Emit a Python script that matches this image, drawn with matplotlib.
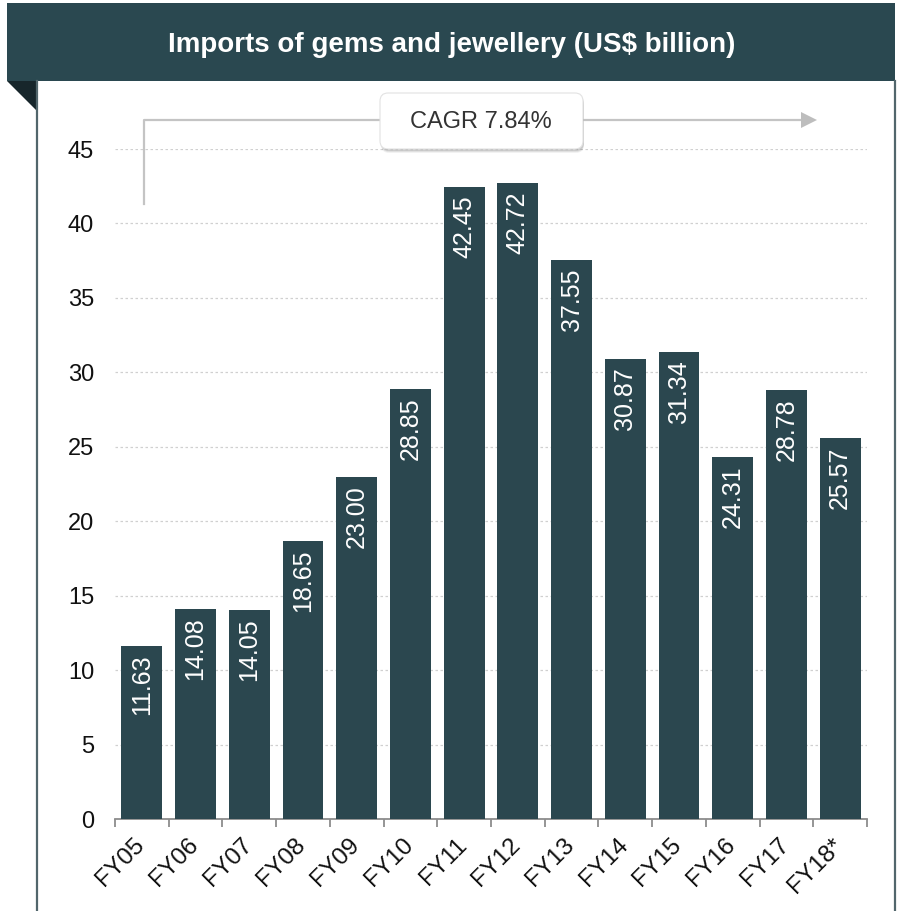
import matplotlib
matplotlib.use("Agg")
import matplotlib.pyplot as plt
import matplotlib.transforms as mtransforms
from matplotlib.patches import Rectangle, Polygon, FancyBboxPatch
from matplotlib.lines import Line2D

# Data
years = ["FY05", "FY06", "FY07", "FY08", "FY09", "FY10", "FY11",
         "FY12", "FY13", "FY14", "FY15", "FY16", "FY17", "FY18*"]
imports = [11.63, 14.08, 14.05, 18.65, 23.00, 28.85, 42.45,
           42.72, 37.55, 30.87, 31.34, 24.31, 28.78, 25.57]
title = "Imports of gems and jewellery (US$ billion)"
cagr_label = "CAGR 7.84%"
y_ticks = [0, 5, 10, 15, 20, 25, 30, 35, 40, 45]

plt.rcParams["font.family"] = ["Liberation Sans", "DejaVu Sans"]

W, H = 897, 911
DARK = "#2a4850"
BAR = "#2b474f"
fig = plt.figure(figsize=(W / 100, H / 100), dpi=100)
fig.patch.set_facecolor("white")


def px(x, y):
    """Pixel position measured from the top-left -> figure fraction."""
    return x / W, 1 - y / H


# Frame: header band, folded corner and side borders
x0, y0 = px(7, 81)
x1, y1 = px(895, 3)
fig.patches.append(Rectangle((x0, y0), x1 - x0, y1 - y0, transform=fig.transFigure,
                             facecolor=DARK, edgecolor="none", zorder=0))
fig.patches.append(Polygon([px(7, 81), px(37, 81), px(37, 111)], closed=True,
                           transform=fig.transFigure, facecolor="#17262b",
                           edgecolor="none", zorder=0))
for bx in (36.5, 895):
    fig.add_artist(Line2D([bx / W, bx / W], [0, 1 - 81 / H], transform=fig.transFigure,
                          color="#52666c", lw=1.6, zorder=1))

fig.text(452 / W, 1 - 45 / H, title, color="white", fontsize=20, fontweight="bold",
         ha="center", va="center")

# Axes
ax_l, ax_r = 115, 867
ax_b, ax_t = 819, 149
ax = fig.add_axes([ax_l / W, 1 - ax_b / H, (ax_r - ax_l) / W, (ax_b - ax_t) / H])
ax.set_facecolor("none")

xs = list(range(len(years)))
bars = ax.bar(xs, imports, width=0.76, color=BAR, zorder=3)
for rect, v in zip(bars, imports):
    ax.annotate(f"{v:.2f}", xy=(rect.get_x() + rect.get_width() / 2, v),
                xytext=(0, -6), textcoords="offset points", rotation=90,
                ha="center", va="top", color="white", fontsize=18, zorder=4)

ax.set_xlim(-0.5, len(years) - 0.5)
ax.set_ylim(0, 45)
ax.set_yticks(y_ticks)
ax.set_yticklabels([str(t) for t in y_ticks], fontsize=17, color="#111111")
ax.tick_params(axis="y", length=0, pad=15)
ax.yaxis.grid(True, linestyle=(0, (2, 2)), color="#d0d0d0", lw=0.9, zorder=0)
ax.set_axisbelow(True)

ax.set_xticks(xs)
ax.set_xticklabels(years, fontsize=17.5, rotation=45, ha="right", va="top", color="#111111")
ax.tick_params(axis="x", length=0, pad=11)
offset = mtransforms.ScaledTranslation(7 / 100, 0, fig.dpi_scale_trans)
for lab in ax.get_xticklabels():
    lab.set_transform(lab.get_transform() + offset)
ax.set_xticks([i - 0.5 for i in range(len(years) + 1)], minor=True)
ax.tick_params(axis="x", which="minor", length=6, width=1.3, color="#8c8c8c")

for s in ("top", "right", "left"):
    ax.spines[s].set_visible(False)
ax.spines["bottom"].set_color("#8c8c8c")
ax.spines["bottom"].set_linewidth(1.3)

# CAGR arrow
GREY = "#c4c4c4"
fig.add_artist(Line2D([144 / W, 144 / W, 802 / W], [1 - 204 / H, 1 - 120 / H, 1 - 120 / H],
                      transform=fig.transFigure, color=GREY, lw=1.6, zorder=5))
fig.patches.append(Polygon([px(801, 112), px(817, 120), px(801, 128)], closed=True,
                           transform=fig.transFigure, facecolor="#bdbdbd",
                           edgecolor="none", zorder=5))

# CAGR label box with soft shadow
bx0, by0 = px(380, 149)
bx1, by1 = px(583, 93)
for k, a in ((4, 0.05), (3, 0.07), (2, 0.09)):
    sh = FancyBboxPatch((bx0 + 1 / W, by0 - k / H), bx1 - bx0, by1 - by0,
                        boxstyle="round,pad=0,rounding_size=0.009",
                        transform=fig.transFigure, facecolor="black", alpha=a,
                        edgecolor="none", zorder=6)
    fig.patches.append(sh)
box = FancyBboxPatch((bx0, by0), bx1 - bx0, by1 - by0,
                     boxstyle="round,pad=0,rounding_size=0.009",
                     transform=fig.transFigure, facecolor="white",
                     edgecolor="#e2e2e2", lw=0.8, zorder=7)
fig.patches.append(box)
fig.text(481 / W, 1 - 122 / H, cagr_label, fontsize=17, color="#333333",
         ha="center", va="center", zorder=8)

fig.savefig("out.png", dpi=100)
